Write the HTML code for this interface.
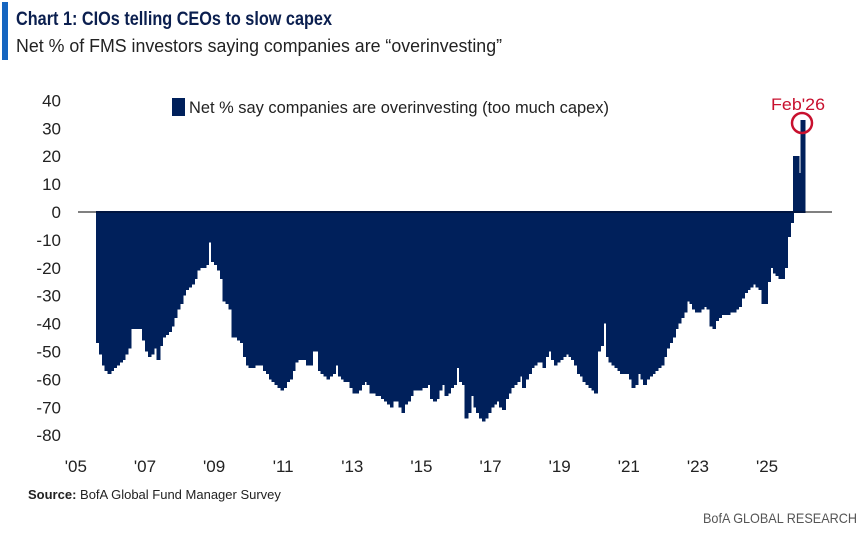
<!DOCTYPE html>
<html><head><meta charset="utf-8"><style>
html,body{margin:0;padding:0;background:#fff;}
svg{display:block;font-family:"Liberation Sans",sans-serif;}
</style></head><body>
<svg id="chart" width="867" height="535" viewBox="0 0 867 535">
<rect x="2" y="2" width="6" height="58" fill="#1565c0"/>
<text x="16" y="25" font-size="19" font-weight="bold" fill="#0b1f4f" textLength="316" lengthAdjust="spacingAndGlyphs">Chart 1: CIOs telling CEOs to slow capex</text>
<text x="16" y="52" font-size="18" fill="#222" textLength="486" lengthAdjust="spacingAndGlyphs">Net % of FMS investors saying companies are “overinvesting”</text>
<g id="yaxis"></g>
<g id="xaxis"></g>
<line x1="78" x2="832" y1="212" y2="212" stroke="#808080" stroke-width="2"/>
<g id="bars" shape-rendering="crispEdges"></g>
<rect x="172" y="98" width="13" height="18" fill="#00205b"/>
<text x="189" y="113" font-size="17" fill="#222" textLength="420" lengthAdjust="spacingAndGlyphs">Net % say companies are overinvesting (too much capex)</text>
<text x="771" y="110" font-size="17" fill="#c8102e" textLength="54" lengthAdjust="spacingAndGlyphs">Feb'26</text>
<circle cx="802" cy="123" r="10" fill="none" stroke="#c8102e" stroke-width="2.5"/>
<text x="28" y="499" font-size="13" fill="#222"><tspan font-weight="bold">Source:</tspan> BofA Global Fund Manager Survey</text>
<text x="857" y="523" font-size="14" fill="#555" text-anchor="end" textLength="154" lengthAdjust="spacingAndGlyphs">BofA GLOBAL RESEARCH</text>
</svg>
<script>
const values = [-47,-51,-55,-57,-58,-57,-56,-55,-54,-53,-51,-49,-42,-42,-42,-42,-46,-50,-52,-51,-49,-53,-48,-45,-44,-43,-41,-38,-35,-33,-30,-28,-27,-26,-24,-21,-20,-20,-19,-11,-18,-19,-21,-24,-32,-33,-35,-45,-45,-46,-47,-52,-55,-56,-56,-55,-55,-55,-57,-58,-60,-61,-62,-63,-64,-63,-61,-60,-57,-54,-53,-53,-53,-55,-55,-50,-50,-57,-58,-59,-60,-59,-58,-55,-59,-60,-61,-61,-63,-65,-65,-64,-62,-61,-62,-65,-65,-66,-66,-67,-68,-69,-70,-68,-68,-70,-72,-69,-68,-66,-64,-64,-64,-63,-63,-62,-67,-68,-67,-64,-62,-66,-65,-63,-62,-56,-61,-62,-74,-72,-66,-70,-72,-74,-75,-74,-72,-70,-69,-68,-70,-71,-67,-65,-63,-62,-61,-59,-63,-60,-58,-56,-55,-54,-54,-56,-52,-50,-53,-55,-54,-53,-52,-51,-52,-53,-55,-58,-59,-61,-62,-63,-64,-65,-50,-48,-40,-52,-54,-55,-56,-57,-58,-58,-58,-60,-63,-62,-58,-60,-62,-60,-59,-58,-57,-56,-55,-52,-49,-47,-45,-42,-40,-38,-36,-32,-33,-35,-36,-36,-35,-34,-35,-41,-42,-39,-38,-37,-37,-37,-36,-36,-35,-34,-31,-29,-28,-27,-26,-27,-28,-33,-33,-25,-20,-22,-23,-24,-24,-20,-9,-4,20,20,14,33];
const startYear = 2005, startMonth = 7; // Aug 2005 (0-based month)
const yTicks = [40,30,20,10,0,-10,-20,-30,-40,-50,-60,-70,-80];
const xTickYears = [2005,2007,2009,2011,2013,2015,2017,2019,2021,2023,2025];
const xTickLabels = ["'05","'07","'09","'11","'13","'15","'17","'19","'21","'23","'25"];

const NS = "http://www.w3.org/2000/svg";
function y(v){ return 212 - v*2.79; }
function xIdx(i){ return 96 + i*2.88; }
function xYear(yr){ return 96 + ((yr - startYear)*12 - startMonth)*2.88; }

const yg = document.getElementById('yaxis');
yTicks.forEach(t=>{
  const tx = document.createElementNS(NS,'text');
  tx.setAttribute('x',61); tx.setAttribute('y',y(t)+6);
  tx.setAttribute('text-anchor','end'); tx.setAttribute('font-size','17'); tx.setAttribute('fill','#222');
  tx.textContent = t;
  
  
  yg.appendChild(tx);
});
const xg = document.getElementById('xaxis');
xTickYears.forEach((yr,k)=>{
  const tx = document.createElementNS(NS,'text');
  tx.setAttribute('x',xYear(yr)); tx.setAttribute('y',472);
  tx.setAttribute('text-anchor','middle'); tx.setAttribute('font-size','17'); tx.setAttribute('fill','#222');
  tx.textContent = xTickLabels[k];
  
  
  xg.appendChild(tx);
});
const bg = document.getElementById('bars');
values.forEach((v,i)=>{
  const r = document.createElementNS(NS,'rect');
  const y0 = y(0), y1 = y(v);
  const last = i === values.length-1;
  r.setAttribute('x', xIdx(i) - (last ? 1 : 0));
  r.setAttribute('width', last ? 5 : 3.8);
  r.setAttribute('y', Math.min(y0,y1));
  r.setAttribute('height', Math.abs(y1-y0));
  r.setAttribute('fill', '#00205b');
  
  
  bg.appendChild(r);
});
const zl = document.createElementNS(NS,'line');
zl.setAttribute('x1', xIdx(0)); zl.setAttribute('x2', xIdx(values.length-1)+4);
zl.setAttribute('y1', 212); zl.setAttribute('y2', 212);
zl.setAttribute('stroke', '#001540'); zl.setAttribute('stroke-width', 2);


bg.appendChild(zl);
</script>
</body></html>
